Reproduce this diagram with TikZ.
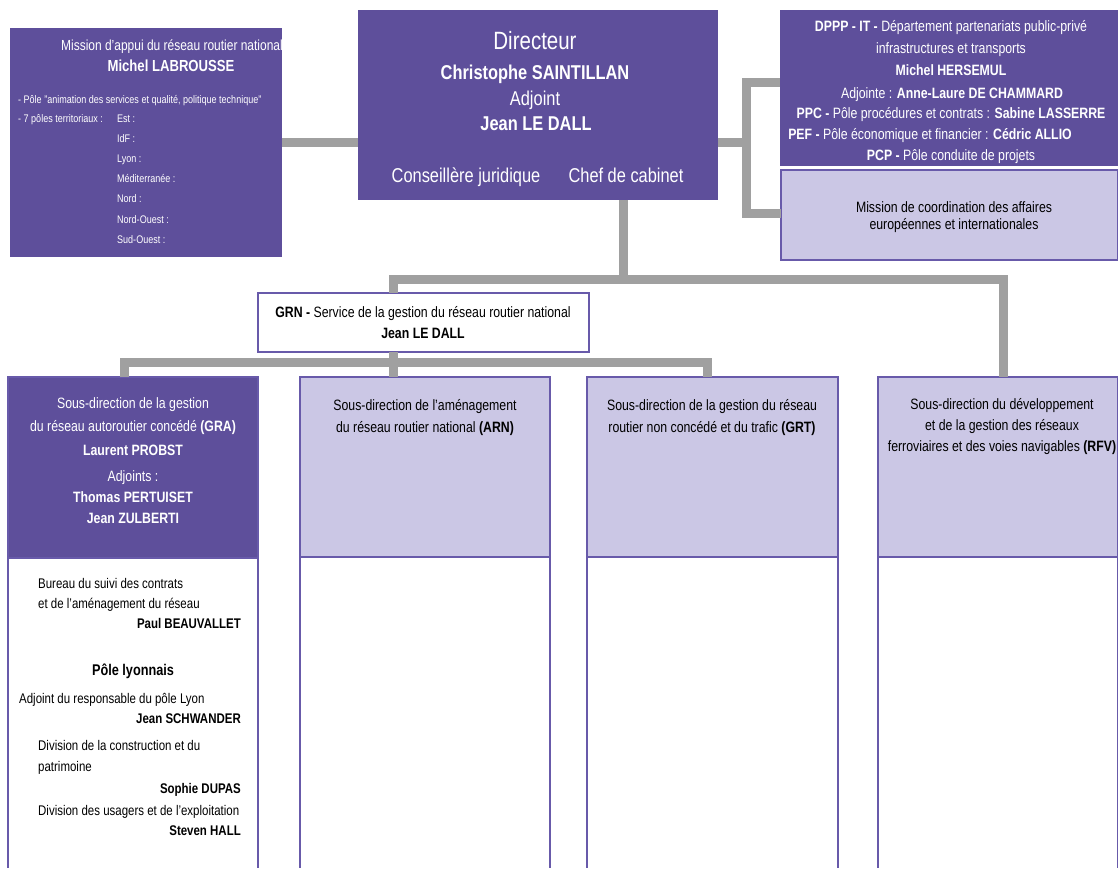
\documentclass[tikz,border=0pt]{standalone}
\usepackage{fontspec}
\setmainfont{Liberation Sans}[FakeStretch=0.82]
\definecolor{dpurple}{RGB}{94,79,155}
\definecolor{lav}{RGB}{203,199,229}
\definecolor{bord}{RGB}{104,90,170}
\definecolor{cgray}{RGB}{160,160,160}
\newcommand\sz[1]{\fontsize{#1}{#1}\selectfont}
\begin{document}
\begin{tikzpicture}[x=1pt,y=-1pt,
  box/.style={rectangle, anchor=north west, inner sep=0pt, outer sep=0pt},
  pbox/.style={box, fill=dpurple},
  lbox/.style={box, fill=lav, draw=bord, line width=1.2pt},
  wbox/.style={box, fill=white, draw=bord, line width=1.2pt},
  conn/.style={draw=cgray, line width=9pt, line cap=butt, line join=miter},
  side/.style={draw=bord, line width=1.2pt},
  wt/.style={text=white, inner sep=0pt, anchor=base},
  bt/.style={text=black, inner sep=0pt, anchor=base},
]
\useasboundingbox (0,0) rectangle (1118,868);

% ---------- boxes ----------
\node[pbox, minimum width=272pt, minimum height=229pt] (mission) at (10,28) {};
\node[pbox, minimum width=360pt, minimum height=190pt] (dir) at (358,10) {};
\node[pbox, minimum width=338pt, minimum height=156pt] (dppp) at (780,10) {};
\node[lbox, minimum width=337pt, minimum height=90pt] (mcoord) at (781,170) {};
\node[wbox, minimum width=331pt, minimum height=59pt] (grn) at (258,293) {};
\node[pbox, draw=bord, line width=1.2pt, minimum width=250pt, minimum height=181pt] (gra) at (8,377) {};
\node[lbox, minimum width=250pt, minimum height=180pt] (arn) at (300,377) {};
\node[lbox, minimum width=251pt, minimum height=180pt] (grt) at (587,377) {};
\node[lbox, minimum width=240pt, minimum height=180pt] (rfv) at (878,377) {};

% lower open columns
\foreach \b in {gra,arn,grt,rfv}{
  \draw[side] (\b.south west) -- (\b.south west |- 0,868);
  \draw[side] (\b.south east) -- (\b.south east |- 0,868);
}

% ---------- connectors ----------
\draw[conn] (mission.east) -- (mission.east -| dir.west);
\coordinate (rb) at (746,142.5);
\coordinate (rt) at (746,82);
\coordinate (rbt) at (746,213);
\draw[conn] (dir.east |- rb) -- (rb);
\draw[conn] (dppp.west |- rt) -- (rt) -- (rbt) -- (mcoord.west |- rbt);

\coordinate (jd) at (623,279);
\coordinate (jl) at (393,279);
\coordinate (jr) at (1003,279);
\draw[conn] (dir.south -| jd) -- (jd);
\draw[conn] (grn.north -| jl) -- (jl) -- (jr) -- (rfv.north -| jr);

\coordinate (kl) at (124,362);
\coordinate (km) at (393,362);
\coordinate (kr) at (707,362);
\draw[conn] (grn.south -| km) -- (arn.north -| km);
\draw[conn] (gra.north -| kl) -- (kl) -- (kr) -- (grt.north -| kr);

% ---------- texts: mission d'appui ----------
\node[wt, font=\sz{14.6}] (m1) at (172,50.5) {Mission d'appui du réseau routier national};
\node[wt, font=\sz{16}\bfseries] (m2) at (171,71.5) {Michel LABROUSSE};
\node[wt, anchor=base west, font=\sz{11}] (m3) at (18,103) {- Pôle "animation des services et qualité, politique technique"};
\node[wt, anchor=base west, font=\sz{11}] (m4) at (18,122) {- 7 pôles territoriaux :};
\node[wt, anchor=base west, font=\sz{11}] (m5) at (117,122) {Est :};
\node[wt, anchor=base west, font=\sz{11}] (m6) at (117,142) {IdF :};
\node[wt, anchor=base west, font=\sz{11}] (m7) at (117,162) {Lyon :};
\node[wt, anchor=base west, font=\sz{11}] (m8) at (117,182) {Méditerranée :};
\node[wt, anchor=base west, font=\sz{11}] (m9) at (117,202) {Nord :};
\node[wt, anchor=base west, font=\sz{11}] (m10) at (117,223) {Nord-Ouest :};
\node[wt, anchor=base west, font=\sz{11}] (m11) at (117,243) {Sud-Ouest :};

% ---------- directeur ----------
\node[wt, font=\sz{25}] (d1) at (535,49) {Directeur};
\node[wt, font=\sz{20}\bfseries] (d2) at (535,79) {Christophe SAINTILLAN};
\node[wt, font=\sz{20}] (d3) at (535,105) {Adjoint};
\node[wt, font=\sz{20}\bfseries] (d4) at (536,130) {Jean LE DALL};
\node[wt, font=\sz{20}] (d5) at (466,182) {Conseillère juridique};
\node[wt, font=\sz{20}] (d6) at (626,182) {Chef de cabinet};

% ---------- DPPP ----------
\node[wt, font=\sz{15}] (p1) at (951,31) {\textbf{DPPP - IT -} Département partenariats public-privé};
\node[wt, font=\sz{15}] (p2) at (951,53) {infrastructures et transports};
\node[wt, font=\sz{15}\bfseries] (p3) at (951,75) {Michel HERSEMUL};
\node[wt, font=\sz{15}] (p4) at (952,98) {Adjointe : \textbf{Anne-Laure DE CHAMMARD}};
\node[wt, font=\sz{15}] (p5) at (951,118) {\textbf{PPC -} Pôle procédures et contrats : \textbf{Sabine LASSERRE}};
\node[wt, font=\sz{15}] (p6) at (930,139) {\textbf{PEF -} Pôle économique et financier : \textbf{Cédric ALLIO}};
\node[wt, font=\sz{15}] (p7) at (951,160) {\textbf{PCP -} Pôle conduite de projets};

% ---------- mission coordination ----------
\node[bt, font=\sz{15}] (c1) at (954,212.5) {Mission de coordination des affaires};
\node[bt, font=\sz{15}] (c2) at (954,229.5) {européennes et internationales};

% ---------- GRN ----------
\node[bt, font=\sz{15}] (g1) at (423,317) {\textbf{GRN -} Service de la gestion du réseau routier national};
\node[bt, font=\sz{15}\bfseries] (g2) at (423,338) {Jean LE DALL};

% ---------- GRA ----------
\node[wt, font=\sz{15}] (a1) at (133,408.5) {Sous-direction de la gestion};
\node[wt, font=\sz{15}] (a2) at (133,431.5) {du réseau autoroutier concédé \textbf{(GRA)}};
\node[wt, font=\sz{15}\bfseries] (a3) at (133,455.5) {Laurent PROBST};
\node[wt, font=\sz{15}] (a4) at (133,481.5) {Adjoints :};
\node[wt, font=\sz{15}\bfseries] (a5) at (133,502.5) {Thomas PERTUISET};
\node[wt, font=\sz{15}\bfseries] (a6) at (133,523.5) {Jean ZULBERTI};

% ---------- ARN / GRT / RFV ----------
\node[bt, font=\sz{15}] (r1) at (425,410) {Sous-direction de l'aménagement};
\node[bt, font=\sz{15}] (r2) at (425,432) {du réseau routier national \textbf{(ARN)}};
\node[bt, font=\sz{15}] (t1) at (712,410) {Sous-direction de la gestion du réseau};
\node[bt, font=\sz{15}] (t2) at (712,432) {routier non concédé et du trafic \textbf{(GRT)}};
\node[bt, font=\sz{15}] (f1) at (1002,409) {Sous-direction du développement};
\node[bt, font=\sz{15}] (f2) at (1002,430) {et de la gestion des réseaux};
\node[bt, font=\sz{15}] (f3) at (1002,451) {ferroviaires et des voies navigables \textbf{(RFV)}};

% ---------- GRA lower part ----------
\node[bt, anchor=base west, font=\sz{14}] (l1) at (38,588) {Bureau du suivi des contrats};
\node[bt, anchor=base west, font=\sz{14}] (l2) at (38,608) {et de l'aménagement du réseau};
\node[bt, anchor=base east, font=\sz{14}\bfseries] (l3) at (241,628) {Paul BEAUVALLET};
\node[bt, font=\sz{15.5}\bfseries] (l4) at (133,675.5) {Pôle lyonnais};
\node[bt, anchor=base west, font=\sz{14}] (l5) at (19,703) {Adjoint du responsable du pôle Lyon};
\node[bt, anchor=base east, font=\sz{14}\bfseries] (l6) at (241,723) {Jean SCHWANDER};
\node[bt, anchor=base west, font=\sz{14}] (l7) at (38,750) {Division de la construction et du};
\node[bt, anchor=base west, font=\sz{14}] (l8) at (38,771) {patrimoine};
\node[bt, anchor=base east, font=\sz{14}\bfseries] (l9) at (241,793) {Sophie DUPAS};
\node[bt, anchor=base west, font=\sz{14}] (l10) at (38,815) {Division des usagers et de l'exploitation};
\node[bt, anchor=base east, font=\sz{14}\bfseries] (l11) at (241,835) {Steven HALL};
\end{tikzpicture}
\end{document}
